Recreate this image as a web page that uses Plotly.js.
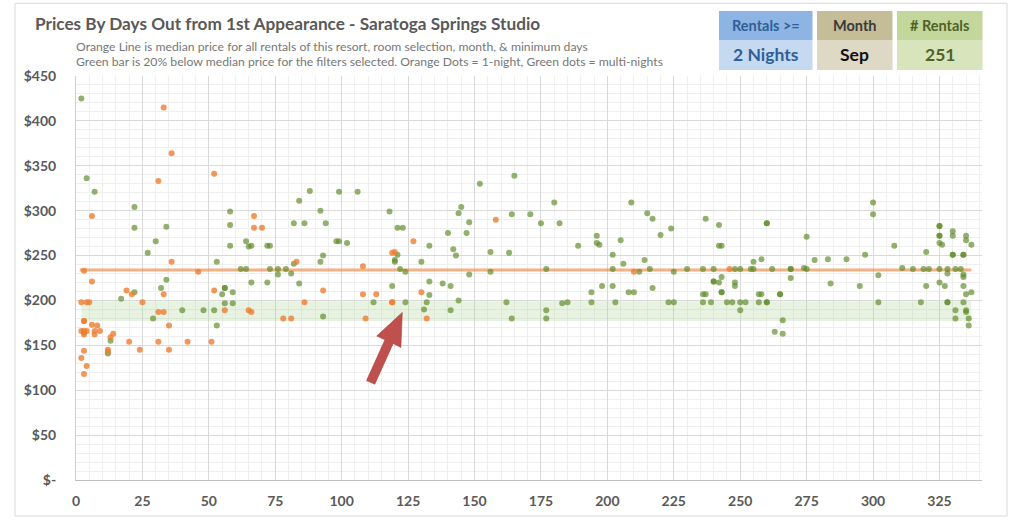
<!DOCTYPE html>
<html>
<head>
<meta charset="utf-8">
<script src="https://cdn.plot.ly/plotly-3.0.1.min.js"></script>
<style>
  html, body { margin: 0; padding: 0; background: #ffffff; }
  #chart { width: 1017px; height: 522px; }
</style>
</head>
<body>
<div id="chart"></div>
<script>
// ---------------- data ----------------
// 1-night rentals (orange dots): days out, price
const ORANGE_DAYS = [33,36,52,31,6,36,3,46,6,19,21,33,52,2,4,5,25,56,65,66,31,33,3,3,6,8,35,2,3,4,9,3,3,7,7,14,13,20,31,42,51,3,12,12,24,35,2,4,3,
  67,67,70,83,78,81,86,93,108,108,113,109,127,119,120,119,119,130,132,158,210,246];
const ORANGE_PRICES = [415,364,341,333,294,243,233,232,221,211,207,207,211,198,198,198,198,189,189,187,187,187,177,177,173,172,172,166,166,166,166,164,162,166,162,163,159,154,154,154,154,144,145,143,145,145,136,127,118,
  294,281,281,243,180,180,198,211,238,207,207,180,266,253,254,198,198,209,180,290,232,235];

// multi-night rentals (green dots): days out, price
const GREEN_DAYS = [2,4,7,22,58,22,34,58,30,58,64,65,27,53,62,64,34,32,56,56,22,55,59,17,56,59,40,48,52,29,53,13,12,66,
  66,72,73,73,76,79,76,82,81,84,72,93,84,88,82,86,92,94,99,106,98,99,102,93,92,112,118,121,123,121,120,120,122,124,119,124,
  133,130,133,133,132,131,138,141,144,141,140,142,143,144,145,147,148,148,152,156,156,
  165,164,171,180,175,182,163,177,162,164,177,177,183,185,189,196,196,197,194,194,198,202,202,202,203,205,206,209,212,208,210,
  214,216,215,217,220,224,217,225,223,225,230,236,240,248,250,237,242,242,243,240,240,242,243,243,243,236,237,236,239,245,247,248,248,250,250,
  260,260,275,300,300,255,258,254,255,262,269,269,274,275,278,283,290,297,269,284,295,257,258,265,265,252,257,260,260,266,263,266,
  308,302,311,315,320,319,321,320,302,318,325,325,325,325,325,326,330,330,335,335,337,330,330,334,334,325,328,331,333,328,334,334,325,327,334,335,337,328,328,334,331,335,335,336,331,336];
const GREEN_PRICES = [425,336,321,304,299,281,282,284,266,261,266,260,253,243,235,235,223,214,214,214,209,207,209,202,197,197,189,189,189,180,172,155,141,261,
  220,261,261,235,235,235,229,241,230,219,220,182,311,322,286,286,300,286,321,321,266,266,264,250,243,198,299,281,281,251,245,243,235,232,216,198,
  261,243,221,206,198,190,219,216,200,189,275,257,250,297,304,275,287,229,330,254,232,
  339,296,296,309,286,286,253,235,198,180,189,180,197,198,261,272,264,262,209,198,216,251,235,216,198,267,241,309,232,209,209,
  245,235,297,291,273,280,214,232,198,198,235,235,235,235,235,291,284,261,261,221,221,220,226,209,209,207,207,198,198,198,198,220,216,198,189,
  286,286,271,309,296,243,246,235,235,235,235,235,236,235,245,246,246,251,225,219,216,207,207,207,207,198,198,198,198,178,165,163,
  261,228,236,235,254,235,235,216,198,198,283,283,272,272,264,262,277,272,272,267,262,251,251,251,251,235,235,235,235,230,229,226,220,216,216,207,209,198,198,198,189,189,187,180,180,172];

// median price line and the "20% below median" band
const MEDIAN_PRICE = 234;
const LINE_DAYS = [1.4, 337];
const BAND_DAYS = [2, 337];
const BAND_LOW = 177;
const BAND_HIGH = 199;

// axis ticks
const Y_TICKS = [0,50,100,150,200,250,300,350,400,450];
const Y_LABELS = ['$-','$50','$100','$150','$200','$250','$300','$350','$400','$450'];
const X_TICKS = [0,25,50,75,100,125,150,175,200,225,250,275,300,325];

// header texts
const TITLE = 'Prices By Days Out from 1st Appearance - Saratoga Springs Studio';
const SUB1 = 'Orange Line is median price for all rentals of this resort, room selection, month, & minimum days';
const SUB2 = 'Green bar is 20% below median price for the filters selected. Orange Dots = 1-night, Green dots = multi-nights';
const BOX_HEADS = ['Rentals >=', 'Month', '# Rentals'];
const BOX_VALUES = ['2 Nights', 'Sep', '251'];

// arrow target (days, price)
const ARROW_AT = [122.8, 186.7];

// ---------------- layout helpers (pixel -> paper) ----------------
const W = 1017, H = 522;
const M = {l: 76, r: 35, t: 76, b: 42};
const PW = W - M.l - M.r, PH = H - M.t - M.b;
const px = x => (x - M.l) / PW;
const py = y => (H - M.b - y) / PH;

const FONT = 'Lato, "Open Sans", sans-serif';

const traces = [
  {x: BAND_DAYS, y: [BAND_LOW, BAND_LOW], mode: 'lines', line: {width: 0, color: 'rgba(0,0,0,0)'},
   hoverinfo: 'skip', showlegend: false},
  {x: BAND_DAYS, y: [BAND_HIGH, BAND_HIGH], mode: 'lines', line: {width: 0, color: 'rgba(0,0,0,0)'},
   fill: 'tonexty', fillcolor: 'rgba(169,208,142,0.27)', hoverinfo: 'skip', showlegend: false},
  {x: LINE_DAYS, y: [MEDIAN_PRICE, MEDIAN_PRICE], mode: 'lines',
   line: {width: 3, color: 'rgba(237,125,49,0.6)'}, showlegend: false},
  {x: GREEN_DAYS, y: GREEN_PRICES, mode: 'markers', type: 'scatter',
   marker: {size: 6, color: 'rgba(95,138,42,0.68)', line: {width: 0}}, showlegend: false},
  {x: ORANGE_DAYS, y: ORANGE_PRICES, mode: 'markers', type: 'scatter',
   marker: {size: 6, color: 'rgba(237,125,49,0.8)', line: {width: 0}}, showlegend: false}
];

const boxes = [
  {x0: 719, x1: 812.5, top: '#8db4e2', bot: '#c5d9f1', headColor: '#2f5f98', valColor: '#2f5f98'},
  {x0: 817, x1: 892.5, top: '#c4bd97', bot: '#ddd9c4', headColor: '#3a3a3a', valColor: '#111111'},
  {x0: 897, x1: 982.5, top: '#c3d69b', bot: '#d8e4bc', headColor: '#4f6228', valColor: '#4f6228'}
];
const BOX_TOP = 11, BOX_MID = 40, BOX_BOT = 70;

const shapes = [
  // outer chart border
  {type: 'rect', xref: 'paper', yref: 'paper', x0: px(15), x1: px(1007), y0: py(516), y1: py(3.3),
   line: {color: '#d9d9d9', width: 1}, fillcolor: 'rgba(0,0,0,0)', layer: 'below'}
];
const annotations = [
  {xref: 'paper', yref: 'paper', x: px(33), y: py(23), xanchor: 'left', yanchor: 'middle', showarrow: false,
   text: '<b>' + TITLE + '</b>', font: {family: FONT, size: 17.2, color: '#595959'}},
  {xref: 'paper', yref: 'paper', x: px(73.5), y: py(46.5), xanchor: 'left', yanchor: 'middle', showarrow: false,
   text: SUB1, font: {family: FONT, size: 12.2, color: '#777777'}},
  {xref: 'paper', yref: 'paper', x: px(73.5), y: py(62), xanchor: 'left', yanchor: 'middle', showarrow: false,
   text: SUB2, font: {family: FONT, size: 12.2, color: '#777777'}}
];
boxes.forEach((b, i) => {
  shapes.push({type: 'rect', xref: 'paper', yref: 'paper', x0: px(b.x0), x1: px(b.x1), y0: py(BOX_MID), y1: py(BOX_TOP),
    fillcolor: b.top, line: {width: 0}});
  shapes.push({type: 'rect', xref: 'paper', yref: 'paper', x0: px(b.x0), x1: px(b.x1), y0: py(BOX_BOT), y1: py(BOX_MID),
    fillcolor: b.bot, line: {width: 0}});
  annotations.push({xref: 'paper', yref: 'paper', x: px((b.x0 + b.x1) / 2), y: py((BOX_TOP + BOX_MID) / 2),
    xanchor: 'center', yanchor: 'middle', showarrow: false, text: '<b>' + BOX_HEADS[i] + '</b>',
    font: {family: FONT, size: 14.5, color: b.headColor}});
  annotations.push({xref: 'paper', yref: 'paper', x: px((b.x0 + b.x1) / 2), y: py((BOX_MID + BOX_BOT) / 2),
    xanchor: 'center', yanchor: 'middle', showarrow: false, text: '<b>' + BOX_VALUES[i] + '</b>',
    font: {family: FONT, size: 17.5, color: b.valColor}});
});

// red arrow (drawn in pixels relative to its tip)
shapes.push({type: 'path', xref: 'x', yref: 'y', xsizemode: 'pixel', ysizemode: 'pixel',
  xanchor: ARROW_AT[0], yanchor: ARROW_AT[1],
  path: 'M0,0 L-1.4,-35 L-9.1,-31 L-27.5,-71.8 L-35.7,-68.2 L-17.3,-27.4 L-25.5,-23.6 Z',
  fillcolor: '#c0504d', line: {color: '#a5403d', width: 0.6}, layer: 'above'});

const tickFont = {family: FONT, size: 14, color: '#595959', weight: 'bold'};

const layout = {
  width: W, height: H,
  margin: M,
  paper_bgcolor: '#ffffff', plot_bgcolor: '#ffffff',
  showlegend: false,
  font: {family: FONT},
  xaxis: {
    range: [0, 341], tickvals: X_TICKS, ticktext: X_TICKS.map(String),
    showgrid: true, gridcolor: '#d9d9d9', gridwidth: 1,
    minor: {dtick: 5, tick0: 0, showgrid: true, gridcolor: '#efefef', gridwidth: 1},
    zeroline: false, showline: true, linecolor: '#bfbfbf', linewidth: 1,
    ticks: '', tickfont: tickFont, ticklabelstandoff: 8, fixedrange: true
  },
  yaxis: {
    range: [0, 450], tickvals: Y_TICKS, ticktext: Y_LABELS,
    showgrid: true, gridcolor: '#d9d9d9', gridwidth: 1,
    minor: {dtick: 10, tick0: 0, showgrid: true, gridcolor: '#efefef', gridwidth: 1},
    zeroline: false, showline: true, linecolor: '#d0d0d0', linewidth: 1,
    ticks: '', tickfont: tickFont, ticklabelstandoff: 16, fixedrange: true
  },
  shapes: shapes,
  annotations: annotations
};

Plotly.newPlot('chart', traces, layout, {displayModeBar: false, staticPlot: true});
</script>
</body>
</html>
